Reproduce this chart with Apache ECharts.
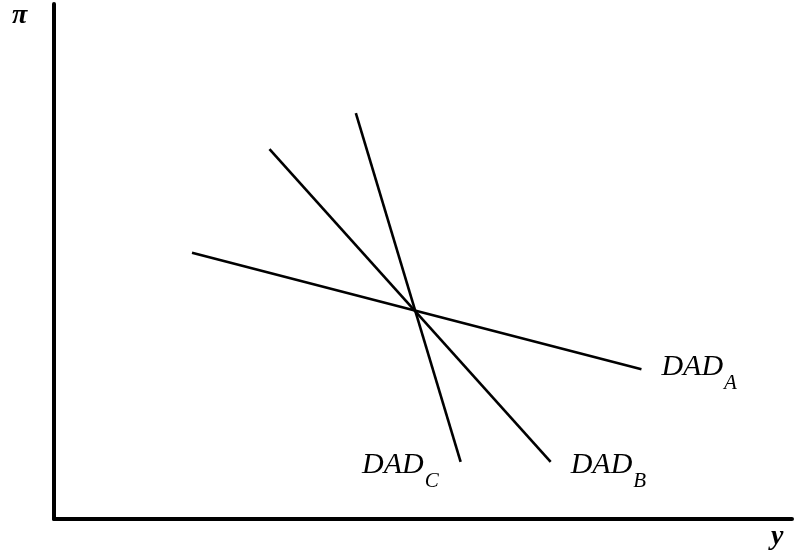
<!DOCTYPE html>
<html>
<head>
<meta charset="utf-8">
<script src="https://cdn.jsdelivr.net/npm/echarts@6/dist/echarts.min.js"></script>
<style>
  html, body { margin: 0; padding: 0; background: #fff; }
  #chart { width: 794px; height: 555px; }
</style>
</head>
<body>
<div id="chart"></div>
<script>
// Three dynamic aggregate demand curves of differing slope, crossing at one point
const curveNames = ['A', 'B', 'C'];
const dadA = [[18.7, 51.7], [79.6, 29.1]];
const dadB = [[29.2, 71.8], [67.3, 11.1]];
const dadC = [[40.9, 78.8], [55.1, 11.1]];
const axisTitles = { x: 'y', y: 'π' };

const serif = '"Liberation Serif", "DejaVu Serif", serif';
const rich = {
  m: { fontFamily: serif, fontStyle: 'italic', fontSize: 30, color: '#000' },
  s: { fontFamily: serif, fontStyle: 'italic', fontSize: 21, color: '#000', padding: [33, 0, 0, 1] }
};

function curve(name, pts, align, offset) {
  return {
    type: 'line',
    name: 'DAD' + name,
    data: pts,
    symbol: 'none',
    silent: true,
    animation: false,
    lineStyle: { color: '#000', width: 2.6 },
    endLabel: {
      show: true,
      align: align,
      verticalAlign: 'middle',
      distance: 0,
      offset: offset,
      formatter: '{m|DAD}{s|' + name + '}',
      rich: rich
    }
  };
}

const chart = echarts.init(document.getElementById('chart'));
chart.setOption({
  backgroundColor: '#fff',
  animation: false,
  grid: { left: 54, right: 2, top: 4, bottom: 36 },
  xAxis: {
    type: 'value', min: 0, max: 100,
    axisLine: { show: true, lineStyle: { color: '#000', width: 4 } },
    axisTick: { show: false }, axisLabel: { show: false }, splitLine: { show: false }
  },
  yAxis: {
    type: 'value', min: 0, max: 100,
    axisLine: { show: true, lineStyle: { color: '#000', width: 4 } },
    axisTick: { show: false }, axisLabel: { show: false }, splitLine: { show: false }
  },
  graphic: [
    { type: 'text', left: 12, top: 2,
      style: { text: axisTitles.y, font: 'italic bold 28px ' + serif, fill: '#000' } },
    { type: 'text', left: 771, top: 523,
      style: { text: axisTitles.x, font: 'italic bold 28px ' + serif, fill: '#000' } }
  ],
  series: [
    curve(curveNames[0], dadA, 'left', [20, -2]),
    curve(curveNames[1], dadB, 'left', [20, 3]),
    curve(curveNames[2], dadC, 'right', [-22, 3])
  ]
});
</script>
</body>
</html>
